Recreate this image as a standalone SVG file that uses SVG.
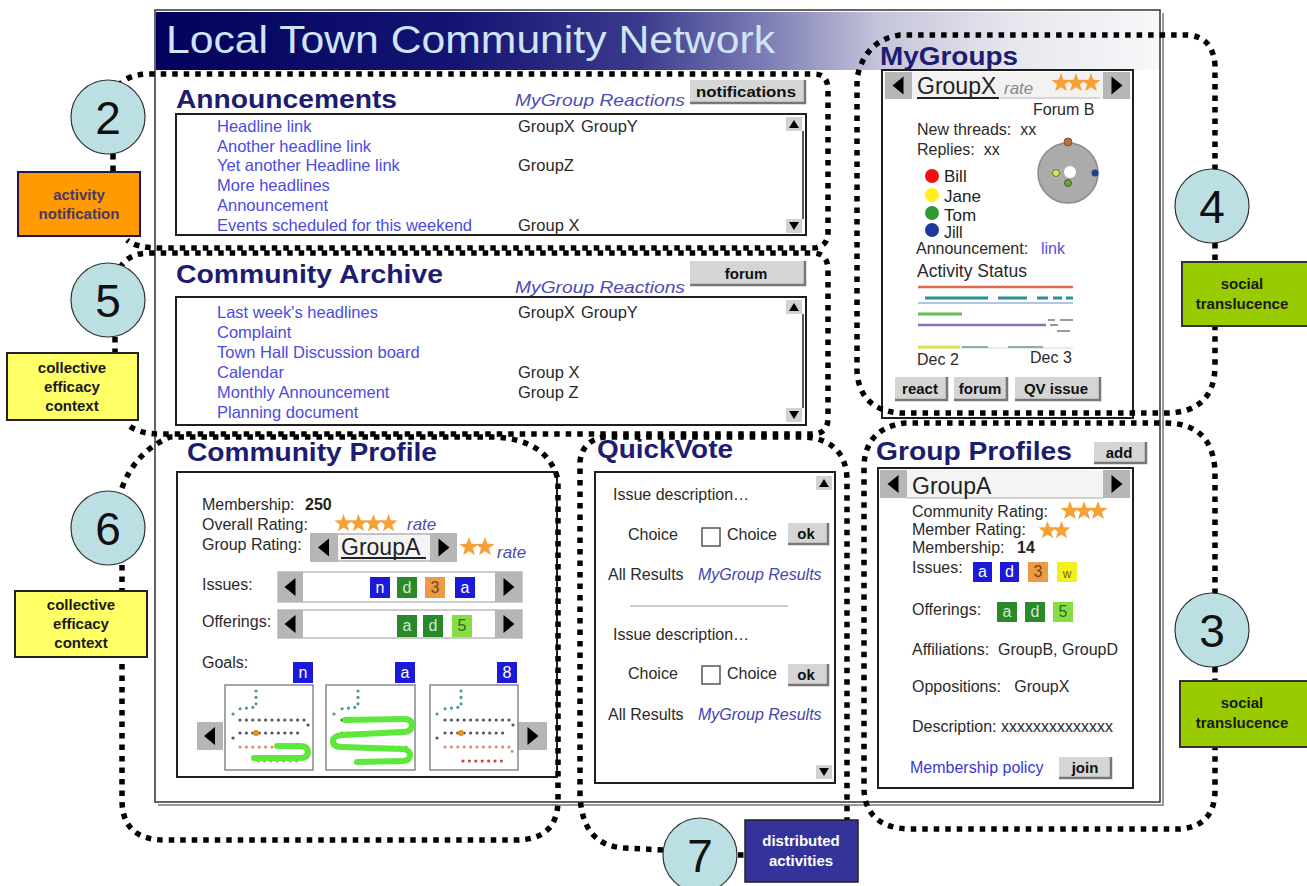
<svg xmlns="http://www.w3.org/2000/svg" width="1307" height="886" viewBox="0 0 1307 886">
<defs>
<linearGradient id="tg" x1="155" y1="0" x2="1160" y2="0" gradientUnits="userSpaceOnUse">
<stop offset="0" stop-color="#02025c"/>
<stop offset="0.3" stop-color="#141474"/>
<stop offset="0.48" stop-color="#3a3a8c"/>
<stop offset="0.62" stop-color="#8484ba"/>
<stop offset="0.72" stop-color="#c4c4da"/>
<stop offset="0.85" stop-color="#e6e6ee"/>
<stop offset="1" stop-color="#f8f8fa"/>
</linearGradient>
<symbol id="star" viewBox="0 0 16 16"><polygon points="8,0 9.94,5.33 15.61,5.53 11.14,9.02 12.7,14.47 8,11.3 3.3,14.47 4.86,9.02 0.39,5.53 6.06,5.33" fill="#f6a035"/></symbol>
<style>
text{font-family:"Liberation Sans",Arial,sans-serif}
.h{font-weight:bold;font-size:25px;fill:#1c1c70}
.t{font-size:16px;fill:#2a2a2a;white-space:pre}
.lk{font-size:16.5px;fill:#4b4bdf}
.g{font-size:16.5px;fill:#2a2a2a}
.it{font-style:italic;font-size:17px;fill:#4d4db0}
.box{fill:#fff;stroke:#1e1e1e;stroke-width:2}
.bf{fill:#d5d5d5}
.bs{fill:none;stroke:#777;stroke-width:2.5}
.bt{font-weight:bold;font-size:15px;fill:#111;text-anchor:middle}
.ab{fill:#b6b6b6}
.tri{fill:#000}
.sc{fill:#d2d2d2}
.dot{fill:none;stroke:#000;stroke-width:5.5;stroke-dasharray:5.5 6}
.circ{fill:#bcdfe3;stroke:#333;stroke-width:1.2}
.num{font-size:46px;fill:#111;text-anchor:middle}
.lb{font-weight:bold;font-size:15px;fill:#1a1a1a;text-anchor:middle}
.tag{font-size:16px;text-anchor:middle}
.gb{fill:#fff;stroke:#888;stroke-width:1.5}
.dd{fill:none;stroke-width:3.2;stroke-linecap:round;stroke-dasharray:0 6.4}
.gr{fill:none;stroke:#5de83a;stroke-width:6;stroke-linecap:round;stroke-linejoin:round}
</style>
</defs>

<rect width="1307" height="886" fill="#fff"/>

<g id="frame">
<rect x="155" y="10" width="1005" height="792" fill="#fff" stroke="#333" stroke-width="1.5"/>
<path d="M1163 13 L1163 805 L158 805" fill="none" stroke="#999" stroke-width="2"/>
<rect x="156" y="12" width="1003" height="58" fill="url(#tg)"/>
</g>

<g id="title">
<text x="166" y="53" font-size="39" fill="#cfe4f5" textLength="609" lengthAdjust="spacingAndGlyphs">Local Town Community Network</text>
</g>

<g id="announcements">
<text class="h" x="176" y="108" textLength="221" lengthAdjust="spacingAndGlyphs">Announcements</text>
<text class="it" x="515" y="106" textLength="170" lengthAdjust="spacingAndGlyphs">MyGroup Reactions</text>
<rect class="bf" x="690" y="80" width="115" height="23"/>
<path class="bs" d="M805 80 L805 103 L690 103"/>
<text class="bt" x="746" y="97" textLength="100" lengthAdjust="spacingAndGlyphs">notifications</text>
<rect class="box" x="176" y="114" width="630" height="121"/>
<line x1="803" y1="131" x2="803" y2="219" stroke="#222" stroke-width="1.5"/>
<rect class="sc" x="786" y="117" width="16" height="14"/><polygon class="tri" points="794,120 789,128 799,128"/>
<rect class="sc" x="786" y="219" width="16" height="14"/><polygon class="tri" points="794,230 789,222 799,222"/>
<text class="lk" x="217" y="132">Headline link</text>
<text class="lk" x="217" y="152">Another headline link</text>
<text class="lk" x="217" y="171">Yet another Headline link</text>
<text class="lk" x="217" y="191">More headlines</text>
<text class="lk" x="217" y="211">Announcement</text>
<text class="lk" x="217" y="231">Events scheduled for this weekend</text>
<text class="g" x="518" y="132">GroupX</text><text class="g" x="581" y="132">GroupY</text>
<text class="g" x="518" y="171">GroupZ</text>
<text class="g" x="518" y="231">Group X</text>
</g>

<g id="archive">
<text class="h" x="176" y="283" textLength="267" lengthAdjust="spacingAndGlyphs">Community Archive</text>
<text class="it" x="515" y="293" textLength="170" lengthAdjust="spacingAndGlyphs">MyGroup Reactions</text>
<rect class="bf" x="690" y="261" width="115" height="24"/>
<path class="bs" d="M805 261 L805 285 L690 285"/>
<text class="bt" x="746" y="279">forum</text>
<rect class="box" x="176" y="297" width="630" height="128"/>
<line x1="803" y1="314" x2="803" y2="408" stroke="#222" stroke-width="1.5"/>
<rect class="sc" x="786" y="300" width="16" height="14"/><polygon class="tri" points="794,303 789,311 799,311"/>
<rect class="sc" x="786" y="408" width="16" height="14"/><polygon class="tri" points="794,419 789,411 799,411"/>
<text class="lk" x="217" y="318">Last week's headlines</text>
<text class="lk" x="217" y="338">Complaint</text>
<text class="lk" x="217" y="358">Town Hall Discussion board</text>
<text class="lk" x="217" y="378">Calendar</text>
<text class="lk" x="217" y="398">Monthly Announcement</text>
<text class="lk" x="217" y="418">Planning document</text>
<text class="g" x="518" y="318">GroupX</text><text class="g" x="581" y="318">GroupY</text>
<text class="g" x="518" y="378">Group X</text>
<text class="g" x="518" y="398">Group Z</text>
</g>

<g id="mygroups">
<text class="h" x="880" y="65" textLength="138" lengthAdjust="spacingAndGlyphs">MyGroups</text>
<rect class="box" x="882" y="70" width="251" height="348"/>
<rect x="884" y="72" width="247" height="27" fill="#f2f2f2"/>
<rect class="ab" x="885" y="72" width="27" height="27"/><polygon class="tri" points="892.5,85.5 903.5,76.5 903.5,94.5"/>
<rect class="ab" x="1103" y="72" width="27" height="27"/><polygon class="tri" points="1122.5,85.5 1111.5,76.5 1111.5,94.5"/>
<text x="917" y="94" font-size="23" fill="#222">GroupX</text>
<line x1="917" y1="98" x2="999" y2="98" stroke="#222" stroke-width="2"/>
<line x1="1000" y1="98" x2="1100" y2="98" stroke="#bbb" stroke-width="1"/>
<text x="1004" y="94" font-size="17" font-style="italic" fill="#888">rate</text>
<use href="#star" x="1051" y="73" width="20" height="20"/>
<use href="#star" x="1066" y="73" width="20" height="20"/>
<use href="#star" x="1081" y="73" width="20" height="20"/>
<text class="t" x="1033" y="115">Forum B</text>
<text class="t" x="917" y="135">New threads:  xx</text>
<text class="t" x="917" y="155">Replies:  xx</text>
<circle cx="1068" cy="173" r="30" fill="#ababab" stroke="#8a8a8a" stroke-width="1.5"/>
<circle cx="1070" cy="172" r="6" fill="#fff"/>
<circle cx="1068" cy="142" r="4" fill="#c07040" stroke="#805030"/>
<circle cx="1056" cy="173" r="3.5" fill="#dede60" stroke="#707020"/>
<circle cx="1068" cy="183" r="3.5" fill="#70a040" stroke="#406020"/>
<circle cx="1095" cy="173" r="3.5" fill="#2040a0"/>
<circle cx="932" cy="176" r="7" fill="#ee1111"/><text x="944" y="182" font-size="17" fill="#222">Bill</text>
<circle cx="932" cy="195" r="7" fill="#ffee22"/><text x="944" y="202" font-size="17" fill="#222">Jane</text>
<circle cx="932" cy="213" r="7" fill="#339933"/><text x="944" y="221" font-size="17" fill="#222">Tom</text>
<circle cx="932" cy="230" r="7" fill="#1a3aa0"/><text x="944" y="238" font-size="16" fill="#222">Jill</text>
<text class="t" x="916" y="254">Announcement:</text><text x="1041" y="254" font-size="16" fill="#5050e0">link</text>
<text x="917" y="277" font-size="17.5" fill="#2a2a2a">Activity Status</text>
<line x1="918" y1="287" x2="1073" y2="287" stroke="#e06a50" stroke-width="2.5"/>
<path d="M925 298 H988 M998 298 H1027 M1037 298 H1048 M1053 298 H1062 M1066 298 H1073" stroke="#2f8f8f" stroke-width="3"/>
<line x1="918" y1="303" x2="1073" y2="303" stroke="#8fb0e0" stroke-width="1.5"/>
<line x1="918" y1="314" x2="962" y2="314" stroke="#6abf4a" stroke-width="3"/>
<line x1="918" y1="325" x2="1046" y2="325" stroke="#8a70b0" stroke-width="2.5"/>
<path d="M1048 320 H1055 M1060 320 H1073 M1050 325 H1058 M1057 331 H1070" stroke="#999" stroke-width="2"/>
<line x1="918" y1="348" x2="1073" y2="348" stroke="#cfd8e0" stroke-width="1"/>
<line x1="918" y1="347" x2="960" y2="347" stroke="#e0e050" stroke-width="3"/>
<path d="M962 347 H988 M1008 347 H1043" stroke="#8ab0a0" stroke-width="2"/>
<text class="t" x="917" y="365">Dec 2</text>
<text class="t" x="1030" y="363">Dec 3</text>
<rect class="bf" x="895" y="377" width="52" height="23"/><path class="bs" d="M947 377 L947 400 L895 400"/><text class="bt" x="920" y="394">react</text>
<rect class="bf" x="954" y="377" width="53" height="23"/><path class="bs" d="M1007 377 L1007 400 L954 400"/><text class="bt" x="980" y="394">forum</text>
<rect class="bf" x="1015" y="377" width="85" height="23"/><path class="bs" d="M1100 377 L1100 400 L1015 400"/><text class="bt" x="1056" y="394">QV issue</text>
</g>

<g id="community-profile">
<text class="h" x="187" y="461" textLength="250" lengthAdjust="spacingAndGlyphs">Community Profile</text>
<rect class="box" x="177" y="472" width="380" height="305"/>
<text class="t" x="202" y="510">Membership:</text><text x="305" y="510" font-size="16" font-weight="bold" fill="#222">250</text>
<text class="t" x="202" y="530">Overall Rating:</text>
<use href="#star" x="334" y="514" width="19" height="19"/>
<use href="#star" x="349" y="514" width="19" height="19"/>
<use href="#star" x="364" y="514" width="19" height="19"/>
<use href="#star" x="379" y="514" width="19" height="19"/>
<text class="it" x="407" y="530">rate</text>
<text class="t" x="202" y="550">Group Rating:</text>
<rect x="310" y="533" width="147" height="29" fill="#c4c4c4"/>
<rect x="338" y="535" width="92" height="25" fill="#f4f4f4"/>
<rect class="ab" x="310" y="533" width="28" height="29"/><polygon class="tri" points="318,547.5 329,538.5 329,556.5"/>
<rect class="ab" x="430" y="533" width="27" height="29"/><polygon class="tri" points="449.5,547.5 438.5,538.5 438.5,556.5"/>
<text x="341" y="555" font-size="23" fill="#222">GroupA</text>
<line x1="341" y1="558" x2="426" y2="558" stroke="#222" stroke-width="2"/>
<use href="#star" x="459" y="537" width="20" height="20"/>
<use href="#star" x="475" y="537" width="20" height="20"/>
<text class="it" x="497" y="558">rate</text>
<text class="t" x="202" y="590">Issues:</text>
<rect x="278" y="572" width="244" height="30" fill="#fff" stroke="#bbb" stroke-width="1.5"/>
<rect class="ab" x="278" y="572" width="25" height="30"/><polygon class="tri" points="284.5,587 295.5,578 295.5,596"/>
<rect class="ab" x="495" y="572" width="27" height="30"/><polygon class="tri" points="514.5,587 503.5,578 503.5,596"/>
<rect x="370" y="577" width="20" height="21" fill="#1a1ad8"/><text class="tag" x="380" y="593" fill="#fff">n</text>
<rect x="397" y="577" width="20" height="21" fill="#2a8a2a"/><text class="tag" x="407" y="593" fill="#d0e8d0">d</text>
<rect x="425" y="577" width="20" height="21" fill="#ee9944"/><text class="tag" x="435" y="593" fill="#6a4a20">3</text>
<rect x="455" y="577" width="20" height="21" fill="#1a1ad8"/><text class="tag" x="465" y="593" fill="#fff">a</text>
<text class="t" x="202" y="627">Offerings:</text>
<rect x="278" y="610" width="244" height="28" fill="#fff" stroke="#bbb" stroke-width="1.5"/>
<rect class="ab" x="278" y="610" width="25" height="28"/><polygon class="tri" points="284.5,624 295.5,615 295.5,633"/>
<rect class="ab" x="495" y="610" width="27" height="28"/><polygon class="tri" points="514.5,624 503.5,615 503.5,633"/>
<rect x="397" y="615" width="20" height="22" fill="#2a8a2a"/><text class="tag" x="407" y="631" fill="#d0e8d0">a</text>
<rect x="423" y="615" width="20" height="22" fill="#2a8a2a"/><text class="tag" x="433" y="631" fill="#d0e8d0">d</text>
<rect x="452" y="615" width="20" height="22" fill="#88dd44"/><text class="tag" x="462" y="631" fill="#336622">5</text>
<text class="t" x="202" y="668">Goals:</text>
<rect x="293" y="662" width="20" height="21" fill="#1a1ad8"/><text class="tag" x="303" y="678" fill="#fff">n</text>
<rect x="395" y="662" width="20" height="21" fill="#1a1ad8"/><text class="tag" x="405" y="678" fill="#fff">a</text>
<rect x="497" y="662" width="20" height="21" fill="#1a1ad8"/><text class="tag" x="507" y="678" fill="#fff">8</text>
<rect class="ab" x="197" y="722" width="26" height="28"/><polygon class="tri" points="204,736 215,727 215,745"/>
<rect class="ab" x="518" y="722" width="29" height="28"/><polygon class="tri" points="538.5,736 527.5,727 527.5,745"/>
<rect class="gb" x="225" y="685" width="88" height="85"/>
<rect class="gb" x="326" y="685" width="89" height="85"/>
<rect class="gb" x="430" y="685" width="88" height="85"/>
<g id="goal1">
<path class="dd" stroke="#4a9a9a" d="M256 691 L256 707 L238 709 M233 714 L233 715"/>
<path class="dd" stroke="#555" d="M240 720 L304 720 L308 725 M240 733 L302 733 M233 738 L233 739"/>
<circle cx="256" cy="733" r="3" fill="#e09020"/>
<path class="dd" stroke="#e08878" d="M240 747 L306 747 M258 761 L302 761"/>
<path class="gr" d="M277 746 L300 746 Q308 746 308 752 Q308 758 300 758 L254 758"/>
</g>
<g id="goal2">
<path class="dd" stroke="#4a9a9a" d="M358 691 L358 707 L340 709 M334 714 L334 715"/>
<path class="dd" stroke="#555" d="M342 720 L406 720 M342 733 L404 733"/>
<path class="dd" stroke="#e08878" d="M342 747 L408 747"/>
<path class="gr" d="M345 720 L403 719 Q412 719 412 725 Q412 732 403 732 L342 735 Q333 736 333 741 Q333 747 342 747 L403 749 Q410 750 410 755 Q410 761 402 761 L357 762"/>
</g>
<g id="goal3">
<path class="dd" stroke="#4a9a9a" d="M461 691 L461 707 L443 709 M437 714 L437 715"/>
<path class="dd" stroke="#555" d="M445 720 L509 720 L513 725 M445 733 L507 733 M437 738 L437 739"/>
<circle cx="461" cy="733" r="3" fill="#e09020"/>
<path class="dd" stroke="#e08878" d="M445 747 L511 747 L513 754"/>
<path class="dd" stroke="#cc4433" d="M463 761 L505 761"/>
</g>
</g>

<g id="quickvote">
<text class="h" x="597" y="458" textLength="136" lengthAdjust="spacingAndGlyphs">QuickVote</text>
<rect class="box" x="595" y="472" width="240" height="311"/>
<rect class="sc" x="816" y="476" width="16" height="14"/><polygon class="tri" points="824,479 819,487 829,487"/>
<rect class="sc" x="816" y="765" width="16" height="14"/><polygon class="tri" points="824,776 819,768 829,768"/>
<text class="t" x="613" y="500">Issue description…</text>
<text class="t" x="628" y="540">Choice</text>
<rect x="702" y="528" width="18" height="18" fill="#fff" stroke="#555" stroke-width="1.5"/>
<text class="t" x="727" y="540">Choice</text>
<rect class="bf" x="788" y="523" width="40" height="21"/><path class="bs" d="M828 523 L828 544 L788 544"/><text class="bt" x="806" y="539">ok</text>
<text class="t" x="608" y="580">All Results</text>
<text x="698" y="580" font-size="16" font-style="italic" fill="#4444b0">MyGroup Results</text>
<line x1="630" y1="606" x2="788" y2="606" stroke="#ccc" stroke-width="2"/>
<text class="t" x="613" y="640">Issue description…</text>
<text class="t" x="628" y="679">Choice</text>
<rect x="702" y="666" width="18" height="18" fill="#fff" stroke="#555" stroke-width="1.5"/>
<text class="t" x="727" y="679">Choice</text>
<rect class="bf" x="788" y="664" width="40" height="21"/><path class="bs" d="M828 664 L828 685 L788 685"/><text class="bt" x="806" y="680">ok</text>
<text class="t" x="608" y="720">All Results</text>
<text x="698" y="720" font-size="16" font-style="italic" fill="#4444b0">MyGroup Results</text>
</g>

<g id="group-profiles">
<text class="h" x="876" y="460" textLength="196" lengthAdjust="spacingAndGlyphs">Group Profiles</text>
<rect class="bf" x="1094" y="442" width="52" height="21"/><path class="bs" d="M1146 442 L1146 463 L1094 463"/><text class="bt" x="1119" y="458">add</text>
<rect class="box" x="878" y="468" width="255" height="320"/>
<rect x="880" y="470" width="251" height="28" fill="#f4f4f4"/>
<line x1="907" y1="498" x2="1103" y2="498" stroke="#aaa" stroke-width="1"/>
<rect class="ab" x="880" y="470" width="27" height="28"/><polygon class="tri" points="887.5,484 898.5,475 898.5,493"/>
<rect class="ab" x="1103" y="470" width="27" height="28"/><polygon class="tri" points="1122.5,484 1111.5,475 1111.5,493"/>
<text x="912" y="494" font-size="23" fill="#222">GroupA</text>
<text class="t" x="912" y="517">Community Rating:</text>
<use href="#star" x="1060" y="501" width="20" height="20"/>
<use href="#star" x="1074" y="501" width="20" height="20"/>
<use href="#star" x="1088" y="501" width="20" height="20"/>
<text class="t" x="912" y="535">Member Rating:</text>
<use href="#star" x="1038" y="521" width="19" height="19"/>
<use href="#star" x="1052" y="521" width="19" height="19"/>
<text class="t" x="912" y="553">Membership:</text><text x="1017" y="553" font-size="16" font-weight="bold" fill="#222">14</text>
<text class="t" x="912" y="573">Issues:</text>
<rect x="973" y="562" width="19" height="20" fill="#1a1ad8"/><text class="tag" x="982.5" y="577" fill="#fff">a</text>
<rect x="1000" y="562" width="19" height="20" fill="#1a1ad8"/><text class="tag" x="1009.5" y="577" fill="#fff">d</text>
<rect x="1028" y="562" width="20" height="20" fill="#ee9944"/><text class="tag" x="1038" y="577" fill="#6a4a20">3</text>
<rect x="1057" y="562" width="20" height="20" fill="#f2f020"/><text x="1067" y="578" font-size="12" text-anchor="middle" fill="#7a5a20">w</text>
<text class="t" x="912" y="615">Offerings:</text>
<rect x="997" y="602" width="20" height="20" fill="#2a8a2a"/><text class="tag" x="1007" y="617" fill="#d0e8d0">a</text>
<rect x="1025" y="602" width="20" height="20" fill="#2a8a2a"/><text class="tag" x="1035" y="617" fill="#d0e8d0">d</text>
<rect x="1053" y="602" width="20" height="20" fill="#88dd44"/><text class="tag" x="1063" y="617" fill="#336622">5</text>
<text class="t" x="912" y="655">Affiliations:  GroupB, GroupD</text>
<text class="t" x="912" y="692">Oppositions:   GroupX</text>
<text class="t" x="912" y="732">Description: xxxxxxxxxxxxxx</text>
<text x="910" y="773" font-size="16" fill="#3838d8">Membership policy</text>
<rect class="bf" x="1059" y="757" width="52" height="21"/><path class="bs" d="M1111 757 L1111 778 L1059 778"/><text class="bt" x="1085" y="773">join</text>
</g>

<g id="connectors">
<path class="dot" d="M118 86 Q128 74 150 74 L814 74 Q828 74 828 90 L828 232 Q828 248 812 248 L160 248 Q136 248 127 240"/>
<path class="dot" d="M113 154 L113 172"/>
<path class="dot" d="M120 268 Q128 253 150 253 L812 253 Q828 253 828 270 L828 418 Q828 434 812 434 L160 434 Q138 434 127 424"/>
<path class="dot" d="M115 337 L115 353"/>
<path class="dot" d="M122 488 Q135 452 170 437 L495 437 Q548 440 558 480 L558 800 Q558 840 515 840 L165 840 Q122 840 122 800 L122 658"/>
<path class="dot" d="M122 565 L122 591"/>
<path class="dot" d="M663 850 L625 848 Q582 846 580 795 L580 462 Q582 440 605 437 L805 437 Q845 440 847 478 L847 820"/>
<path class="dot" d="M738 855 L746 855"/>
<path class="dot" d="M1215 170 L1215 65 Q1213 37 1188 35 L900 35 Q865 40 857 78 L857 372 Q860 410 900 413 L1165 413 Q1215 413 1215 365 L1215 327"/>
<path class="dot" d="M1215 243 L1215 262"/>
<path class="dot" d="M1215 594 L1215 470 Q1212 423 1165 423 L905 423 Q866 428 864 465 L864 790 Q866 828 910 829 L1180 829 Q1215 826 1215 790 L1215 748"/>
<path class="dot" d="M1215 667 L1215 681"/>
</g>

<g id="n2"><circle class="circ" cx="108" cy="117" r="37"/><text class="num" x="108" y="134">2</text></g>
<g id="lbl-activity-notification"><rect x="18" y="172" width="122" height="64" fill="#ff9a00" stroke="#1a1a50" stroke-width="2"/>
<text class="lb" x="79" y="200" style="fill:#4a3868">activity</text><text class="lb" x="79" y="219" style="fill:#4a3868">notification</text></g>
<g id="n5"><circle class="circ" cx="108" cy="300" r="37"/><text class="num" x="108" y="317">5</text></g>
<g id="lbl-collective-1"><rect x="7" y="353" width="131" height="67" fill="#ffff66" stroke="#222" stroke-width="2"/>
<text class="lb" x="72" y="373">collective</text><text class="lb" x="72" y="392">efficacy</text><text class="lb" x="72" y="411">context</text></g>
<g id="n6"><circle class="circ" cx="108" cy="528" r="37"/><text class="num" x="108" y="545">6</text></g>
<g id="lbl-collective-2"><rect x="15" y="591" width="132" height="66" fill="#ffff66" stroke="#222" stroke-width="2"/>
<text class="lb" x="81" y="610">collective</text><text class="lb" x="81" y="629">efficacy</text><text class="lb" x="81" y="648">context</text></g>
<g id="n4"><circle class="circ" cx="1212" cy="206" r="37"/><text class="num" x="1212" y="223">4</text></g>
<g id="lbl-social-1"><rect x="1182" y="262" width="126" height="64" fill="#99cc00" stroke="#333" stroke-width="2"/>
<text class="lb" x="1242" y="289">social</text><text class="lb" x="1242" y="309">translucence</text></g>
<g id="n3"><circle class="circ" cx="1212" cy="630" r="37"/><text class="num" x="1212" y="647">3</text></g>
<g id="lbl-social-2"><rect x="1180" y="681" width="128" height="66" fill="#99cc00" stroke="#333" stroke-width="2"/>
<text class="lb" x="1242" y="708">social</text><text class="lb" x="1242" y="728">translucence</text></g>
<g id="n7"><circle class="circ" cx="700" cy="855" r="37"/><text class="num" x="700" y="872">7</text></g>
<g id="lbl-distributed"><rect x="745" y="820" width="113" height="62" fill="#333399" stroke="#222" stroke-width="1.5"/>
<text class="lb" x="801" y="846" style="fill:#fff">distributed</text><text class="lb" x="801" y="866" style="fill:#fff">activities</text></g>
</svg>
